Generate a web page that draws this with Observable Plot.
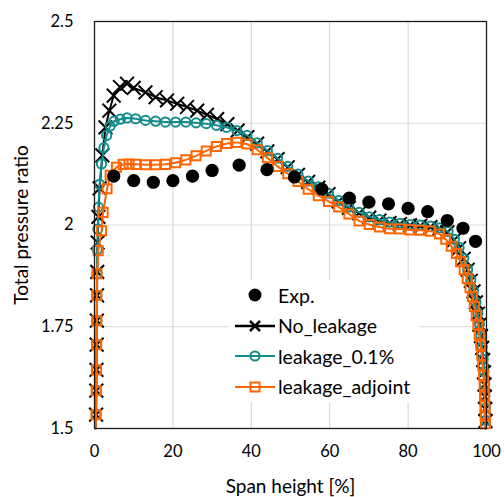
<!DOCTYPE html>
<html><head><meta charset="utf-8">
<script src="https://cdn.jsdelivr.net/npm/d3@7"></script>
<script src="https://cdn.jsdelivr.net/npm/@observablehq/plot@0.6"></script>
<style>
body{margin:0;background:#fff;}
#wrap{position:relative;width:504px;height:497px;font-family:Lato,"Open Sans",sans-serif;}
#legend{position:absolute;left:228px;top:280px;width:192px;height:122px;background:#fff;}
.row{position:absolute;left:0;height:30px;display:flex;align-items:center;}
.row svg{flex:none;display:block}
.row span{font-size:19.5px;color:#000;margin-left:2px;white-space:nowrap}
</style></head><body><div id="wrap"><div id="legend"></div></div>
<script>
// ---- data ----
const expSpan  = [4.9, 10.0, 15.0, 20.0, 25.0, 30.0, 36.9, 44.0, 51.0, 58.0, 65.0, 70.0, 75.0, 80.0, 85.0, 90.0, 94.0, 97.2];
const expRatio = [2.120, 2.109, 2.105, 2.109, 2.120, 2.134, 2.147, 2.136, 2.118, 2.088, 2.066, 2.056, 2.052, 2.041, 2.033, 2.011, 1.992, 1.960];

const noLeakSpan  = [0.3, 0.4, 0.45, 0.5, 0.55, 0.6, 0.65, 0.7, 0.8, 1.0, 1.3, 2.0, 2.8, 3.8, 4.9, 6.5, 8.3, 10.0, 13.0, 15.6, 18.5, 21.1, 23.6, 26.2, 28.7, 31.3, 33.9, 36.5, 39.0, 41.5, 44.1, 46.7, 49.3, 51.9, 54.5, 57.1, 59.7, 62.3, 64.9, 67.5, 70.1, 72.7, 75.3, 77.9, 80.5, 83.1, 85.7, 88.0, 90.0, 91.7, 93.0, 94.2, 95.2, 96.0, 96.7, 97.3, 97.8, 98.2, 98.6, 98.9, 99.15, 99.35, 99.5, 99.6, 99.7, 99.75, 99.8];
const noLeakRatio = [1.50, 1.534, 1.593, 1.644, 1.706, 1.765, 1.827, 1.885, 1.957, 2.02, 2.09, 2.171, 2.240, 2.281, 2.318, 2.339, 2.347, 2.337, 2.326, 2.314, 2.306, 2.298, 2.29, 2.281, 2.271, 2.26, 2.248, 2.232, 2.216, 2.200, 2.181, 2.162, 2.142, 2.123, 2.106, 2.092, 2.076, 2.058, 2.042, 2.029, 2.018, 2.011, 2.005, 2.002, 1.999, 1.998, 1.995, 1.991, 1.982, 1.963, 1.943, 1.917, 1.89, 1.863, 1.837, 1.81, 1.782, 1.755, 1.727, 1.698, 1.668, 1.638, 1.608, 1.578, 1.548, 1.518, 1.50];

const leak01Span  = [0.3, 0.4, 0.45, 0.5, 0.55, 0.6, 0.6, 0.65, 0.7, 0.85, 1.0, 1.3, 1.8, 2.4, 3.1, 4.0, 5.0, 6.6, 8.3, 10.5, 13.0, 15.6, 18.1, 20.7, 23.3, 25.9, 28.5, 31.1, 33.7, 36.3, 38.9, 41.5, 44.1, 46.7, 49.3, 51.9, 54.5, 57.1, 59.7, 62.3, 64.9, 67.5, 70.1, 72.7, 75.3, 77.9, 80.5, 83.1, 85.7, 88.0, 90.2, 91.8, 93.0, 94.2, 95.2, 96.0, 96.7, 97.3, 97.8, 98.2, 98.6, 98.9, 99.15, 99.35, 99.5, 99.6, 99.7, 99.75, 99.8];
const leak01Ratio = [1.50, 1.534, 1.593, 1.644, 1.706, 1.765, 1.827, 1.88, 1.94, 1.99, 2.044, 2.10, 2.15, 2.19, 2.22, 2.243, 2.255, 2.26, 2.263, 2.261, 2.257, 2.255, 2.253, 2.253, 2.253, 2.251, 2.249, 2.245, 2.24, 2.232, 2.22, 2.202, 2.183, 2.164, 2.144, 2.125, 2.108, 2.094, 2.078, 2.06, 2.044, 2.031, 2.02, 2.013, 2.007, 2.004, 2.001, 2.0, 1.997, 1.993, 1.984, 1.965, 1.945, 1.918, 1.89, 1.865, 1.838, 1.81, 1.783, 1.757, 1.728, 1.70, 1.67, 1.64, 1.61, 1.58, 1.55, 1.52, 1.50];

const adjSpan  = [0.3, 0.4, 0.45, 0.5, 0.55, 0.6, 0.6, 0.65, 0.95, 1.8, 2.2, 3.2, 4.0, 5.6, 7.3, 8.8, 10.5, 13.0, 15.6, 18.1, 20.7, 23.3, 25.9, 28.5, 31.1, 33.7, 36.3, 38.9, 41.5, 44.1, 46.7, 49.3, 51.9, 54.5, 57.1, 59.7, 62.3, 64.9, 67.5, 70.1, 72.7, 75.3, 77.9, 80.5, 83.1, 85.7, 88.0, 89.6, 91.0, 92.3, 93.4, 94.3, 95.1, 95.8, 96.4, 96.9, 97.4, 97.8, 98.15, 98.5, 98.8, 99.05, 99.25, 99.4, 99.5, 99.6, 99.67, 99.73, 99.78];
const adjRatio = [1.50, 1.534, 1.593, 1.644, 1.706, 1.765, 1.827, 1.88, 1.937, 1.986, 2.031, 2.089, 2.122, 2.142, 2.149, 2.150, 2.149, 2.148, 2.148, 2.149, 2.153, 2.160, 2.170, 2.182, 2.193, 2.200, 2.203, 2.199, 2.185, 2.165, 2.144, 2.126, 2.107, 2.088, 2.072, 2.058, 2.044, 2.027, 2.010, 2.001, 1.995, 1.991, 1.990, 1.988, 1.987, 1.985, 1.978, 1.965, 1.948, 1.93, 1.91, 1.89, 1.868, 1.846, 1.824, 1.80, 1.777, 1.755, 1.73, 1.705, 1.68, 1.655, 1.63, 1.605, 1.58, 1.555, 1.53, 1.512, 1.50];

const xTicks = [0, 20, 40, 60, 80, 100];
const yTicks = [1.5, 1.75, 2, 2.25, 2.5];
const xGrid = [20, 40, 60, 80];
const yGrid = [1.75, 2, 2.25];
const seriesNames = ["Exp.", "No_leakage", "leakage_0.1%", "leakage_adjoint"];
const xTitle = "Span height [%]";
const yTitle = "Total pressure ratio";

// ---- build ----
const rows = (xs, ys) => xs.map((x, i) => ({x, y: ys[i]}));
const exp = rows(expSpan, expRatio);
const noLeak = rows(noLeakSpan, noLeakRatio);
const leak01 = rows(leak01Span, leak01Ratio);
const adj = rows(adjSpan, adjRatio);
const visible = d => d.y > 1.505;

const BLACK = "#000", TEAL = "#128c8c", ORANGE = "#ff6600";

const chart = Plot.plot({
  width: 504, height: 497,
  marginLeft: 94, marginRight: 18, marginTop: 21, marginBottom: 69,
  style: {fontFamily: "Lato, 'Open Sans', sans-serif", fontSize: "16.5px", color: "#000", background: "transparent"},
  x: {domain: [0, 100]},
  y: {domain: [1.5, 2.5]},
  marks: [
    Plot.gridX(xGrid, {stroke: "#d9d9d9", strokeOpacity: 1, strokeWidth: 1.2}),
    Plot.gridY(yGrid, {stroke: "#d9d9d9", strokeOpacity: 1, strokeWidth: 1.2}),
    Plot.axisX(xTicks, {tickSize: 0, tickPadding: 17, label: null, fontSize: 16.5}),
    Plot.axisY(yTicks, {tickSize: 0, tickPadding: 21, label: null, fontSize: 16.5, tickFormat: d => String(d)}),
    Plot.axisX([], {label: xTitle, labelAnchor: "center", labelOffset: 64, fontSize: 19, labelArrow: "none"}),
    Plot.axisY([], {label: yTitle, labelAnchor: "center", labelOffset: 80, fontSize: 19, labelArrow: "none"}),
    Plot.line(noLeak, {x: "x", y: "y", stroke: BLACK, strokeWidth: 2}),
    Plot.dot(noLeak.filter(visible), {x: "x", y: "y", symbol: "times", r: 6.3, stroke: BLACK, strokeWidth: 2}),
    Plot.line(leak01, {x: "x", y: "y", stroke: TEAL, strokeWidth: 2}),
    Plot.dot(leak01.filter(visible), {x: "x", y: "y", symbol: "circle", r: 4.6, stroke: TEAL, strokeWidth: 2, fill: "none"}),
    Plot.line(adj, {x: "x", y: "y", stroke: ORANGE, strokeWidth: 2}),
    Plot.dot(adj.filter(visible), {x: "x", y: "y", symbol: "square", r: 5.1, stroke: ORANGE, strokeWidth: 2, fill: "none"}),
    Plot.dot(exp, {x: "x", y: "y", r: 6.6, fill: BLACK, stroke: "none"}),
    Plot.frame({stroke: "#1a1a1a", strokeWidth: 1.3})
  ]
});
const wrap = document.getElementById("wrap");
wrap.insertBefore(chart, wrap.firstChild);

// legend (HTML overlay with white background, like the original)
const legend = document.getElementById("legend");
const sym = {
  "Exp.": `<circle cx="27" cy="10" r="6.5" fill="${BLACK}"/>`,
  "No_leakage": `<line x1="7" x2="47" y1="10" y2="10" stroke="${BLACK}" stroke-width="2.5"/><path d="M22 5L32 15M32 5L22 15" stroke="${BLACK}" stroke-width="2.5"/>`,
  "leakage_0.1%": `<line x1="7" x2="47" y1="10" y2="10" stroke="${TEAL}" stroke-width="2"/><circle cx="27" cy="10" r="4.6" fill="none" stroke="${TEAL}" stroke-width="2"/>`,
  "leakage_adjoint": `<line x1="7" x2="47" y1="10" y2="10" stroke="${ORANGE}" stroke-width="2"/><rect x="22.5" y="5.5" width="9" height="9" fill="none" stroke="${ORANGE}" stroke-width="2"/>`
};
seriesNames.forEach((name, i) => {
  const row = document.createElement("div");
  row.className = "row";
  row.style.top = (i * 30.5) + "px";
  row.innerHTML = `<svg width="48" height="20">${sym[name]}</svg><span>${name}</span>`;
  legend.appendChild(row);
});
</script>
</body></html>
